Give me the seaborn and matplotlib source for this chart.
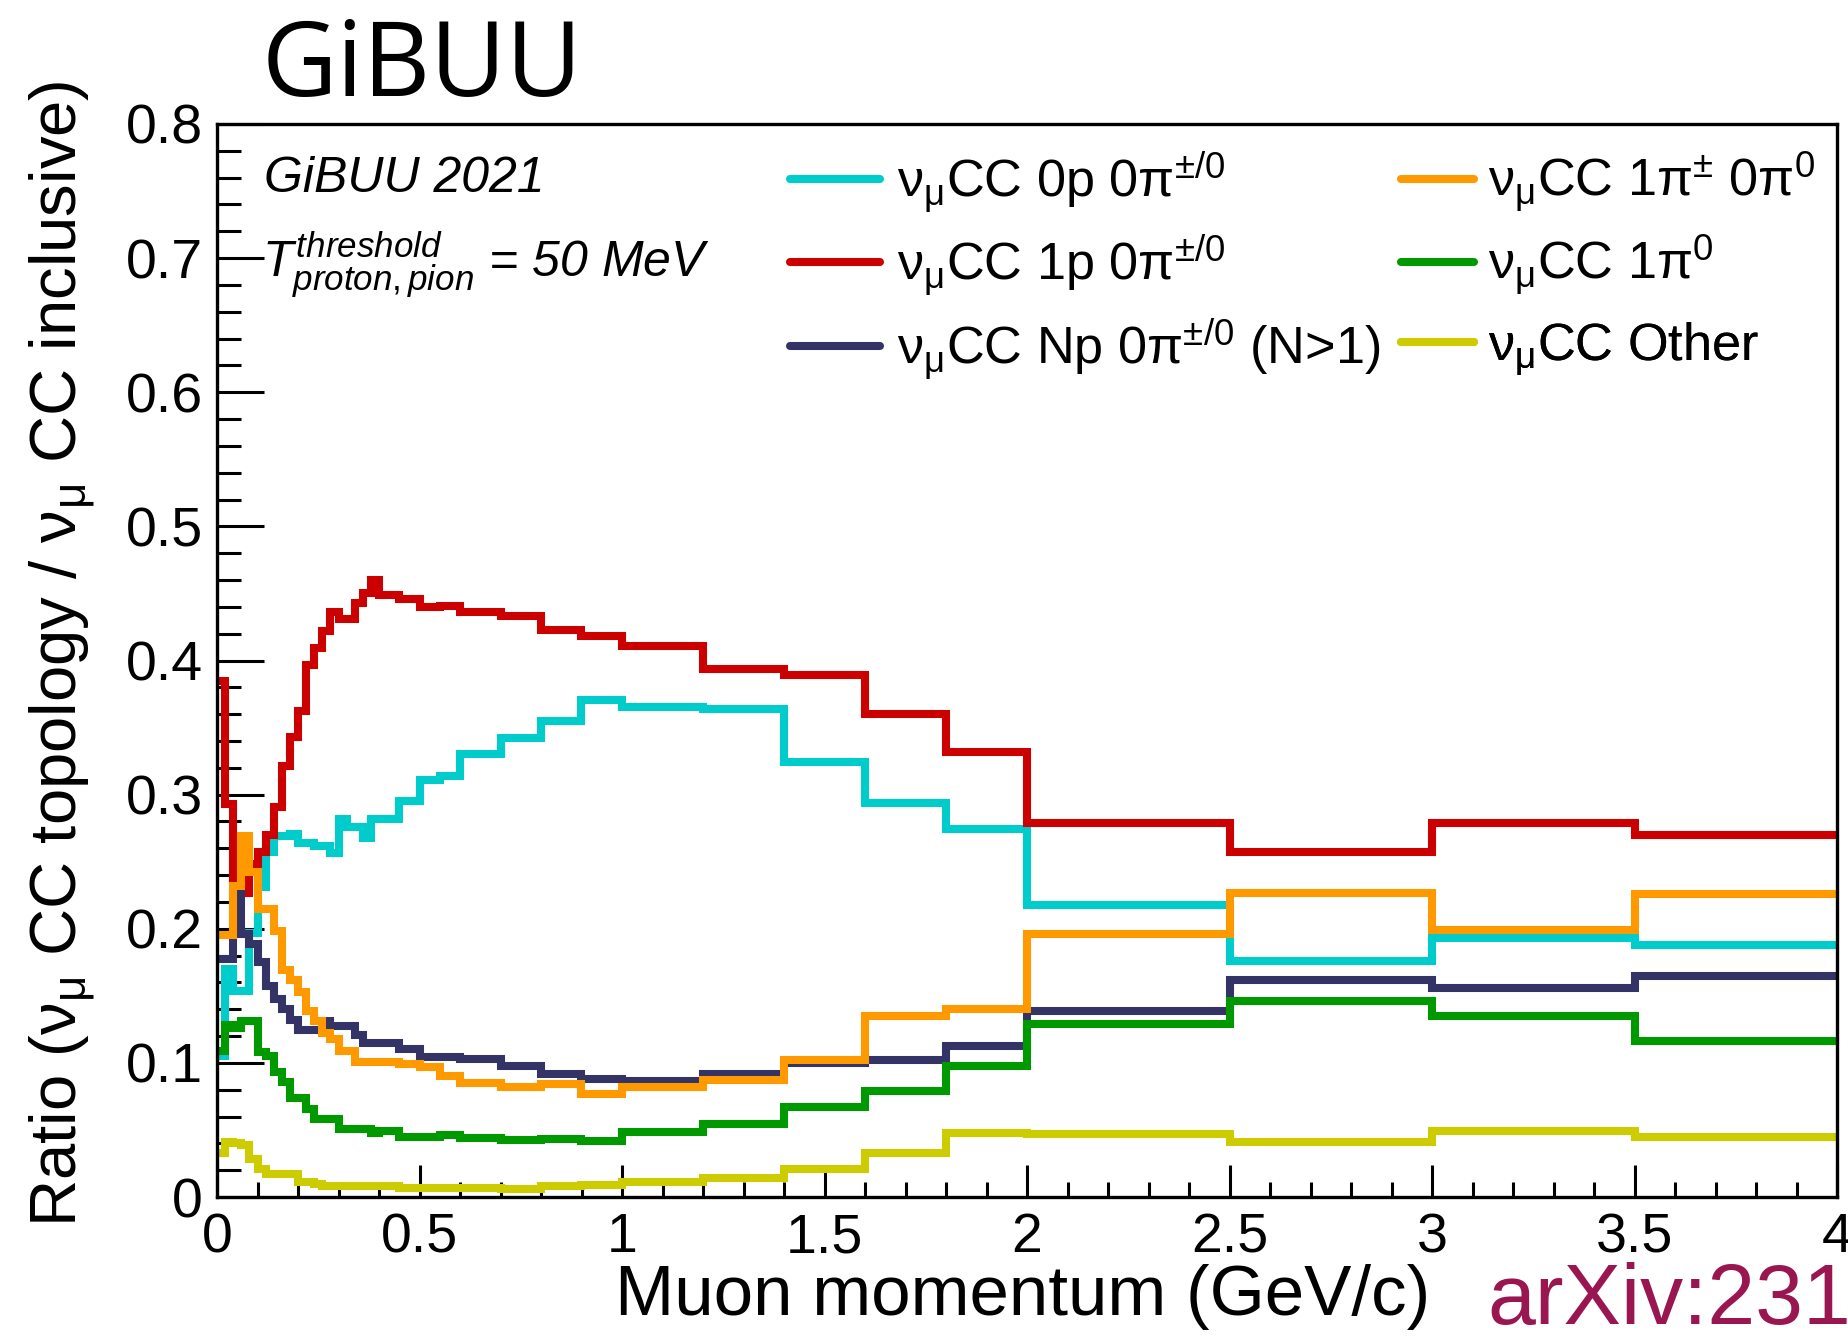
import numpy as np
import pandas as pd
import matplotlib
matplotlib.use("Agg")
import matplotlib.pyplot as plt
from matplotlib.lines import Line2D
from matplotlib.ticker import MultipleLocator, FixedLocator, FixedFormatter
import seaborn as sns

# Muon momentum binning (GeV/c)
bin_edges = [0.00, 0.02, 0.04, 0.06, 0.08, 0.10, 0.12, 0.14, 0.16, 0.18,
             0.20, 0.22, 0.24, 0.26, 0.28, 0.30, 0.32, 0.34, 0.36, 0.38,
             0.40, 0.45, 0.50, 0.55, 0.60, 0.70, 0.80, 0.90, 1.00, 1.20,
             1.40, 1.60, 1.80, 2.00, 2.50, 3.00, 3.50, 4.00]

# Ratio of each topology to the inclusive CC cross section, per bin
ratio_0p = [0.105, 0.170, 0.1535, 0.1535, 0.1965, 0.231, 0.257, 0.269, 0.269, 0.271,
            0.2636, 0.2636, 0.262, 0.262, 0.2566, 0.2817, 0.2755, 0.276, 0.268, 0.2817,
            0.2815, 0.295, 0.311, 0.314, 0.330, 0.342, 0.355, 0.3705, 0.365, 0.3635,
            0.3245, 0.294, 0.274, 0.218, 0.176, 0.193, 0.188]
ratio_1p = [0.385, 0.293, 0.238, 0.227, 0.248, 0.257, 0.270, 0.291, 0.321, 0.343,
            0.362, 0.397, 0.409, 0.422, 0.436, 0.431, 0.431, 0.443, 0.450, 0.460,
            0.449, 0.446, 0.440, 0.441, 0.436, 0.433, 0.423, 0.418, 0.411, 0.394,
            0.389, 0.360, 0.332, 0.279, 0.257, 0.279, 0.270]
ratio_np = [0.1774, 0.1774, 0.227, 0.196, 0.1886, 0.175, 0.1575, 0.1473, 0.140, 0.1323,
            0.1244, 0.1244, 0.1244, 0.1314, 0.1277, 0.1277, 0.1277, 0.1207, 0.115, 0.115,
            0.1148, 0.1103, 0.1045, 0.1045, 0.1028, 0.0978, 0.0914, 0.0879, 0.0866, 0.0916,
            0.100, 0.1021, 0.1128, 0.139, 0.162, 0.156, 0.165]
ratio_1pic = [0.195, 0.195, 0.232, 0.269, 0.242, 0.215, 0.215, 0.198, 0.169, 0.162,
              0.1525, 0.139, 0.131, 0.122, 0.118, 0.109, 0.109, 0.1003, 0.1003, 0.1003,
              0.1003, 0.099, 0.0966, 0.0904, 0.085, 0.0817, 0.0842, 0.0765, 0.0817, 0.0872,
              0.102, 0.135, 0.140, 0.196, 0.227, 0.199, 0.226]
ratio_1pi0 = [0.109, 0.128, 0.126, 0.131, 0.131, 0.108, 0.105, 0.093, 0.086, 0.074,
              0.074, 0.0655, 0.058, 0.058, 0.058, 0.0507, 0.0507, 0.0507, 0.0507, 0.0474,
              0.049, 0.045, 0.045, 0.046, 0.044, 0.0424, 0.0429, 0.0419, 0.0486, 0.0541,
              0.0673, 0.079, 0.0976, 0.129, 0.146, 0.135, 0.116]
ratio_other = [0.033, 0.041, 0.040, 0.039, 0.028, 0.021, 0.017, 0.017, 0.017, 0.017,
               0.011, 0.011, 0.010, 0.008, 0.008, 0.008, 0.008, 0.008, 0.008, 0.008,
               0.008, 0.007, 0.007, 0.007, 0.007, 0.006, 0.008, 0.009, 0.011, 0.014,
               0.021, 0.033, 0.048, 0.047, 0.041, 0.049, 0.045]

topology_labels = [
    r"$\mathrm{\nu_{\mu}}$CC 0p 0$\mathrm{\pi^{\pm/0}}$",
    r"$\mathrm{\nu_{\mu}}$CC 1p 0$\mathrm{\pi^{\pm/0}}$",
    r"$\mathrm{\nu_{\mu}}$CC Np 0$\mathrm{\pi^{\pm/0}}$ (N>1)",
    r"$\mathrm{\nu_{\mu}}$CC 1$\mathrm{\pi^{\pm}}$ 0$\mathrm{\pi^{0}}$",
    r"$\mathrm{\nu_{\mu}}$CC 1$\mathrm{\pi^{0}}$",
    r"$\mathrm{\nu_{\mu}}$CC Other",
]
topology_colors = ["#00cccc", "#cc0000", "#333366", "#ff9900", "#009900", "#cccc00"]
topology_ratios = [ratio_0p, ratio_1p, ratio_np, ratio_1pic, ratio_1pi0, ratio_other]

x_tick_values = [0, 0.5, 1, 1.5, 2, 2.5, 3, 3.5, 4]
x_tick_labels = ["0", "0.5", "1", "1.5", "2", "2.5", "3", "3.5", "4"]
y_tick_values = [0, 0.1, 0.2, 0.3, 0.4, 0.5, 0.6, 0.7, 0.8]
y_tick_labels = ["0", "0.1", "0.2", "0.3", "0.4", "0.5", "0.6", "0.7", "0.8"]

sns.set_theme(style="ticks")
plt.rcParams["font.family"] = ["Liberation Sans", "DejaVu Sans"]
plt.rcParams["mathtext.fontset"] = "custom"
plt.rcParams["mathtext.rm"] = "Liberation Sans"
plt.rcParams["mathtext.it"] = "Liberation Sans:italic"
plt.rcParams["mathtext.bf"] = "Liberation Sans:bold"
plt.rcParams["mathtext.sf"] = "Liberation Sans"
for key in ["text.color", "axes.labelcolor", "xtick.color", "ytick.color", "axes.edgecolor"]:
    plt.rcParams[key] = "black"

W, H = 1849, 1340
fig = plt.figure(figsize=(W / 100, H / 100), dpi=100)
fig.patch.set_facecolor("white")
ax = fig.add_axes([217 / W, 1 - 1197 / H, 1620 / W, 1073 / H])
ax.set_facecolor("white")

edges = np.asarray(bin_edges)
centers = 0.5 * (edges[:-1] + edges[1:])
LW = 5.8
for vals, col in zip(topology_ratios, topology_colors):
    df = pd.DataFrame({"momentum": centers, "ratio": vals})
    sns.histplot(data=df, x="momentum", weights="ratio", bins=list(bin_edges),
                 element="step", fill=False, color=col, linewidth=LW, ax=ax,
                 solid_joinstyle="miter")

ax.set_xlim(0, 4)
ax.set_ylim(0, 0.8)
ax.xaxis.set_major_locator(FixedLocator(x_tick_values))
ax.xaxis.set_major_formatter(FixedFormatter(x_tick_labels))
ax.xaxis.set_minor_locator(MultipleLocator(0.1))
ax.yaxis.set_major_locator(FixedLocator(y_tick_values))
ax.yaxis.set_major_formatter(FixedFormatter(y_tick_labels))
ax.yaxis.set_minor_locator(MultipleLocator(0.02))

ax.tick_params(which="both", direction="in", top=False, right=False, colors="black")
ax.tick_params(axis="x", which="major", length=23, width=2.2, labelsize=40, pad=11)
ax.tick_params(axis="x", which="minor", length=11, width=2.2)
ax.tick_params(axis="y", which="major", length=34, width=2.2, labelsize=40, pad=10)
ax.tick_params(axis="y", which="minor", length=17, width=2.2)
for sp in ax.spines.values():
    sp.set_visible(True)
    sp.set_color("black")
    sp.set_linewidth(2.4)

ax.set_xlabel("Muon momentum (GeV/c)", fontsize=51, ha="right")
ax.xaxis.set_label_coords((1430 - 217) / 1620, -0.093)
ax.xaxis.label.set_va("center")
ax.set_ylabel(r"Ratio ($\mathrm{\nu_{\mu}}$ CC topology / $\mathrm{\nu_{\mu}}$ CC inclusive)",
              fontsize=47)
ax.yaxis.set_label_coords((62 - 217) / 1620, 0.506)
ax.yaxis.label.set_va("center")

# Legend: two columns of three rows, one entry per legend box
LEG_FS = 37.6
col_x = [(790 - 217) / 1620, (1401 - 217) / 1620]
col_handle = [1.72, 1.40]
col_pad = [0.33, 0.27]
row_y = [(1197 - y) / 1073 for y in (182, 265, 349)]
for i, (lab, col) in enumerate(zip(topology_labels, topology_colors)):
    c, r = divmod(i, 3)
    leg = ax.legend([Line2D([], [], color=col, linewidth=LW)], [lab],
                    loc="center left", bbox_to_anchor=(col_x[c], row_y[r]),
                    frameon=False, fontsize=LEG_FS, handlelength=col_handle[c],
                    handletextpad=col_pad[c], borderpad=0, borderaxespad=0)
    ax.add_artist(leg)

ax.text(0.029, 0.9366, "GiBUU 2021", style="italic", fontsize=36,
        transform=ax.transAxes, va="baseline")
ax.text(0.0278, 0.857, r"$T^{threshold}_{proton,pion}$ = 50 MeV", style="italic",
        fontsize=36, transform=ax.transAxes, va="baseline")

fig.text(262 / W, 1 - 96 / H, "GiBUU", family=["Open Sans", "DejaVu Sans"],
         fontsize=75, va="baseline", ha="left", color="black")
fig.text(1487 / W, 1 - 1324 / H, "arXiv:231", color="#991650", fontsize=62,
         va="baseline", ha="left")

fig.savefig("out.png", dpi=100)
